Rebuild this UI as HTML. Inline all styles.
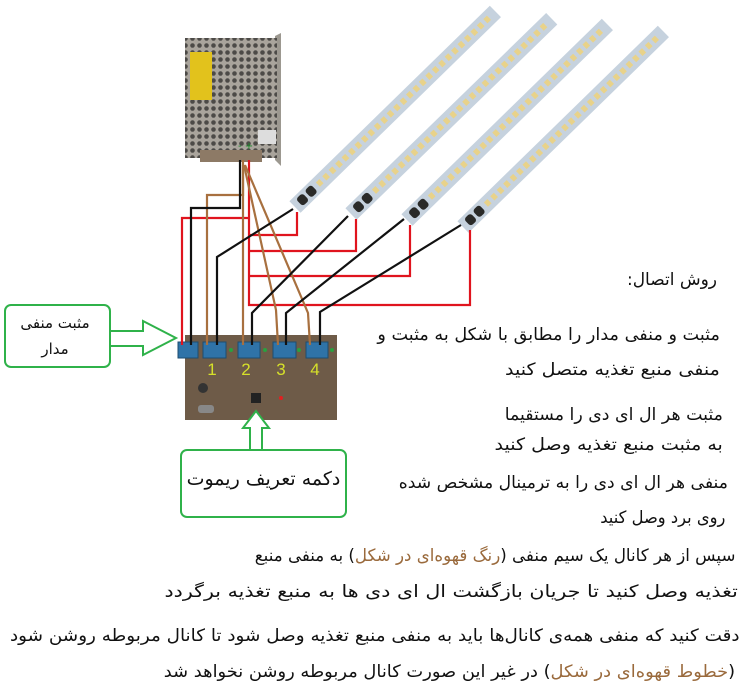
<!DOCTYPE html>
<html><head><meta charset="utf-8"><style>
body{margin:0;width:750px;height:689px;background:#fff;overflow:hidden;position:relative;font-family:"DejaVu Sans","Liberation Sans",sans-serif;}
.t{position:absolute;direction:rtl;white-space:nowrap;color:#111;font-size:17px;line-height:20px;transform-origin:right center;}
.b{color:#9a6a3c;}
</style></head><body>
<svg width="750" height="689" style="position:absolute;left:0;top:0">
<defs>
<pattern id="holes" width="7" height="7" patternUnits="userSpaceOnUse">
<rect width="7" height="7" fill="#a9a49c"/><circle cx="3.5" cy="3.5" r="2.3" fill="#4c4a47"/></pattern>
<g id="strip">
<rect x="0" y="-8" width="280" height="16" fill="#c6d2de"/>
<rect x="6" y="-5" width="9" height="10" fill="#2a2a28" rx="3"/>
<rect x="18" y="-5" width="9" height="10" fill="#2a2a28" rx="3"/>
<g fill="#e8d28a">
<rect x="32" y="-3" width="5" height="6"/><rect x="41" y="-3" width="5" height="6"/><rect x="50" y="-3" width="5" height="6"/><rect x="59" y="-3" width="5" height="6"/><rect x="68" y="-3" width="5" height="6"/><rect x="77" y="-3" width="5" height="6"/><rect x="86" y="-3" width="5" height="6"/><rect x="95" y="-3" width="5" height="6"/><rect x="104" y="-3" width="5" height="6"/><rect x="113" y="-3" width="5" height="6"/><rect x="122" y="-3" width="5" height="6"/><rect x="131" y="-3" width="5" height="6"/><rect x="140" y="-3" width="5" height="6"/><rect x="149" y="-3" width="5" height="6"/><rect x="158" y="-3" width="5" height="6"/><rect x="167" y="-3" width="5" height="6"/><rect x="176" y="-3" width="5" height="6"/><rect x="185" y="-3" width="5" height="6"/><rect x="194" y="-3" width="5" height="6"/><rect x="203" y="-3" width="5" height="6"/><rect x="212" y="-3" width="5" height="6"/><rect x="221" y="-3" width="5" height="6"/><rect x="230" y="-3" width="5" height="6"/><rect x="239" y="-3" width="5" height="6"/><rect x="248" y="-3" width="5" height="6"/><rect x="257" y="-3" width="5" height="6"/><rect x="266" y="-3" width="5" height="6"/></g>
</g>
</defs>
<polygon points="275,36 281,33 281,166 275,160" fill="#9c9890"/>
<rect x="185" y="38" width="92" height="120" fill="url(#holes)"/>
<rect x="190" y="52" width="22" height="48" fill="#e2c21c"/>
<rect x="258" y="130" width="18" height="14" fill="#ddd"/>
<rect x="200" y="150" width="62" height="12" fill="#8d7a66"/>
<text x="238" y="149" fill="#1c8c2c" font-size="10">- +</text>
<g transform="translate(295,207) rotate(-44.3)"><use href="#strip"/></g>
<g transform="translate(351,214) rotate(-44.2)"><use href="#strip"/></g>
<g transform="translate(407,220) rotate(-44.3)"><use href="#strip"/></g>
<g transform="translate(463,227) rotate(-44.3)"><use href="#strip"/></g>
<rect x="185" y="335" width="152" height="85" fill="#6e5b48"/>
<rect x="198" y="405" width="16" height="8" fill="#888" rx="3"/>
<circle cx="203" cy="388" r="5" fill="#333"/>
<rect x="251" y="393" width="10" height="10" fill="#222"/>
<circle cx="281" cy="398" r="2" fill="#e02020"/>
<g fill="#2f73a8" stroke="#1d4c70" stroke-width="1">
<rect x="178" y="342" width="20" height="16"/><rect x="203" y="342" width="23" height="16"/><rect x="238" y="342" width="22" height="16"/><rect x="273" y="342" width="23" height="16"/><rect x="306" y="342" width="22" height="16"/></g>
<g fill="#2aa040"><circle cx="231" cy="350" r="2"/><circle cx="265" cy="350" r="2"/><circle cx="299" cy="350" r="2"/><circle cx="332" cy="350" r="2"/></g>
<g fill="#d6e02a" font-family="Liberation Sans" font-size="17" text-anchor="middle">
<text x="212" y="375">1</text><text x="246" y="375">2</text><text x="281" y="375">3</text><text x="315" y="375">4</text></g>
<g fill="none" stroke-width="2.2">
<polyline stroke="#e0141e" points="182,345 182,218 249,218"/>
<polyline stroke="#e0141e" points="249,160 249,305 470,305 470,230"/>
<polyline stroke="#e0141e" points="249,235 297,235 297,212"/>
<polyline stroke="#e0141e" points="249,251 356,251 356,219"/>
<polyline stroke="#e0141e" points="249,276 410,276 410,225"/>
<polyline stroke="#a8703f" points="207,345 207,195 243,195 243,160"/>
<polyline stroke="#a8703f" points="243,165 243,345"/>
<polyline stroke="#a8703f" points="244,165 276,310 278,345"/>
<polyline stroke="#a8703f" points="245,165 308,313 310,345"/>
<polyline stroke="#111" points="191,345 191,208 240,208 240,160"/>
<polyline stroke="#111" points="217,345 217,257 293,209"/>
<polyline stroke="#111" points="252,345 252,313 348,216"/>
<polyline stroke="#111" points="286,345 286,313 404,219"/>
<polyline stroke="#111" points="320,345 320,312 461,225"/>
</g>
<g fill="#fff" stroke="#2fb24a" stroke-width="2">
<rect x="5" y="305" width="105" height="62" rx="6"/>
<polygon points="110,331 143,331 143,321 176,338 143,355 143,346 110,346"/>
<rect x="181" y="450" width="165" height="67" rx="6"/>
<polygon points="250,450 250,428 243,428 256,411 269,428 262,428 262,450"/>
</g>
</svg>
<div class="t" style="left:15px;top:313px;width:80px;text-align:center;font-size:15px">مثبت منفی</div>
<div class="t" style="left:15px;top:339px;width:80px;text-align:center;font-size:15px">مدار</div>
<div class="t" style="left:181px;top:467px;width:165px;text-align:center;font-size:19px;line-height:24px">دکمه تعریف ریموت</div>
<div class="t" style="right:33px;top:270px">روش اتصال:</div>
<div class="t" style="right:30px;top:325px;transform:scaleX(1.035)">مثبت و منفی مدار را مطابق با شکل به مثبت و</div>
<div class="t" style="right:30px;top:360px;transform:scaleX(1.12)">منفی منبع تغذیه متصل کنید</div>
<div class="t" style="right:27px;top:405px;transform:scaleX(1.02)">مثبت هر ال ای دی را مستقیما</div>
<div class="t" style="right:27px;top:435px;transform:scaleX(1.12)">به مثبت منبع تغذیه وصل کنید</div>
<div class="t" style="right:22px;top:473px;transform:scaleX(1.01)">منفی هر ال ای دی را به ترمینال مشخص شده</div>
<div class="t" style="right:25px;top:508px;transform:scaleX(0.96)">روی برد وصل کنید</div>
<div class="t" style="right:15px;top:546px;transform:scaleX(0.98)">سپس از هر کانال یک سیم منفی (<span class="b">رنگ قهوه‌ای در شکل</span>) به منفی منبع</div>
<div class="t" style="right:12px;top:582px;transform:scaleX(1.21)">تغذیه وصل کنید تا جریان بازگشت ال ای دی ها به منبع تغذیه برگردد</div>
<div class="t" style="right:10px;top:626px;transform:scaleX(1.08)">دقت کنید که منفی همه‌ی کانال‌ها باید به منفی منبع تغذیه وصل شود تا کانال مربوطه روشن شود</div>
<div class="t" style="right:15px;top:662px;transform:scaleX(1.05)">(<span class="b">خطوط قهوه‌ای در شکل</span>) در غیر این صورت کانال مربوطه روشن نخواهد شد</div>
</body></html>
